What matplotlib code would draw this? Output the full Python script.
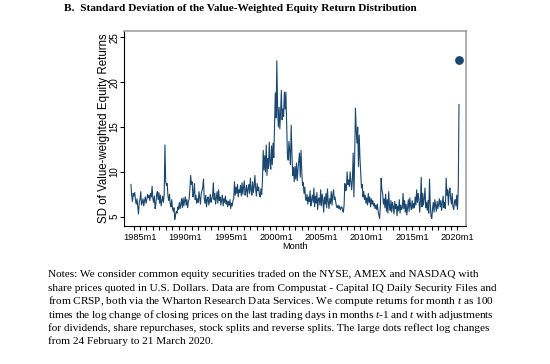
import matplotlib
matplotlib.use("Agg")
import matplotlib.pyplot as plt
import numpy as np

plt.rcParams['font.family'] = ['Liberation Sans', 'DejaVu Sans']
plt.rcParams['mathtext.fontset'] = 'custom'
plt.rcParams['mathtext.rm'] = 'Liberation Serif'
plt.rcParams['mathtext.it'] = 'Liberation Serif:italic'

# monthly SD of value-weighted equity returns, 1984m1 .. 2020m3
sd_by_year = {
    1984: [8.6, 7.4, 6.7, 7.6, 7.3, 7.7, 6.9, 6.4, 7.0, 6.1, 5.3, 6.6],
    1985: [6.9, 7.8, 6.3, 6.6, 7.0, 6.2, 6.8, 7.2, 6.5, 6.9, 7.5, 7.1],
    1986: [7.4, 6.8, 7.6, 7.2, 8.4, 7.0, 6.6, 7.3, 5.9, 6.4, 7.5, 7.8],
    1987: [6.9, 7.7, 6.5, 7.4, 6.2, 6.8, 7.3, 6.6, 7.5, 13.0, 8.9, 8.5],
    1988: [8.7, 7.3, 6.8, 7.5, 6.4, 6.1, 6.9, 5.9, 5.6, 6.0, 4.7, 5.2],
    1989: [5.6, 5.4, 6.1, 5.8, 6.6, 5.9, 6.4, 7.0, 6.0, 7.1, 6.2, 6.8],
    1990: [7.2, 6.3, 6.9, 6.0, 6.7, 7.0, 8.1, 9.6, 8.6, 8.9, 7.2, 7.6],
    1991: [8.7, 6.9, 7.4, 6.5, 7.0, 6.6, 7.8, 7.1, 6.4, 7.6, 7.9, 8.3],
    1992: [9.2, 7.0, 6.5, 7.4, 6.1, 6.9, 7.2, 6.3, 6.8, 7.5, 6.6, 7.0],
    1993: [7.3, 8.8, 6.9, 7.6, 6.4, 7.1, 7.8, 6.5, 8.0, 6.8, 7.2, 6.3],
    1994: [6.9, 7.4, 6.2, 7.0, 6.6, 7.3, 6.4, 6.8, 6.1, 6.7, 6.3, 6.9],
    1995: [5.9, 6.5, 6.2, 6.8, 7.0, 8.9, 7.4, 8.3, 7.6, 8.6, 7.2, 8.0],
    1996: [7.7, 8.5, 7.3, 8.8, 7.5, 8.2, 9.0, 7.4, 7.9, 8.5, 7.2, 8.1],
    1997: [8.6, 7.6, 9.3, 8.0, 7.4, 8.9, 7.7, 8.4, 9.6, 8.1, 7.3, 8.7],
    1998: [7.9, 8.3, 7.4, 7.2, 8.1, 7.5, 9.0, 12.4, 10.2, 11.8, 10.0, 13.0],
    1999: [9.6, 11.5, 10.4, 13.3, 11.0, 10.3, 12.9, 10.8, 13.2, 11.6, 15.0, 18.8],
    2000: [16.0, 22.4, 17.5, 15.0, 17.2, 14.8, 16.6, 19.1, 15.8, 17.0, 16.2, 18.9],
    2001: [17.0, 18.9, 15.6, 12.0, 11.3, 13.4, 12.4, 10.8, 15.2, 12.1, 9.6, 10.5],
    2002: [8.9, 10.6, 9.2, 11.0, 9.0, 10.3, 11.2, 12.1, 9.4, 12.4, 10.1, 8.5],
    2003: [8.8, 7.6, 8.3, 7.0, 6.8, 7.5, 6.4, 7.2, 6.7, 7.9, 6.2, 6.9],
    2004: [7.4, 6.6, 8.2, 6.1, 7.3, 6.5, 7.7, 5.8, 6.9, 7.1, 6.3, 8.0],
    2005: [6.2, 7.5, 6.8, 5.5, 7.2, 6.4, 7.6, 6.0, 8.1, 6.7, 5.9, 7.0],
    2006: [6.5, 7.8, 6.3, 7.4, 8.0, 6.9, 7.2, 6.6, 6.1, 6.0, 6.3, 5.9],
    2007: [6.2, 5.8, 6.0, 6.1, 5.7, 5.5, 6.3, 8.7, 7.9, 8.0, 10.0, 8.6],
    2008: [9.1, 8.4, 10.0, 8.9, 8.0, 9.2, 12.1, 7.2, 11.6, 17.1, 14.8, 13.2],
    2009: [15.0, 10.6, 14.1, 11.5, 9.8, 8.2, 8.6, 7.2, 7.8, 6.9, 7.4, 6.5],
    2010: [7.1, 6.3, 7.6, 6.6, 7.2, 6.1, 7.0, 6.4, 6.8, 6.2, 6.5, 5.9],
    2011: [6.3, 5.8, 6.4, 5.6, 5.2, 4.8, 6.2, 9.3, 8.0, 7.6, 6.4, 7.0],
    2012: [6.0, 7.5, 5.6, 6.9, 5.4, 7.8, 6.2, 5.7, 6.8, 5.5, 6.6, 6.1],
    2013: [5.3, 6.7, 5.9, 6.4, 5.1, 6.2, 5.7, 6.9, 5.4, 6.3, 5.8, 6.0],
    2014: [7.6, 5.9, 6.8, 5.5, 6.4, 5.2, 6.1, 6.9, 5.6, 7.1, 6.2, 5.8],
    2015: [6.8, 5.9, 6.5, 6.0, 7.2, 6.3, 8.0, 6.6, 7.6, 6.9, 5.5, 6.8],
    2016: [9.4, 6.1, 7.6, 6.3, 7.0, 8.2, 6.0, 6.6, 5.7, 6.8, 5.4, 9.2],
    2017: [6.4, 5.0, 4.8, 5.9, 6.6, 5.5, 6.9, 6.2, 5.6, 6.7, 5.9, 6.4],
    2018: [7.0, 6.1, 6.8, 5.7, 6.5, 7.3, 6.0, 6.6, 5.9, 9.3, 7.4, 8.0],
    2019: [6.3, 7.8, 8.2, 7.0, 6.4, 7.6, 6.1, 5.8, 6.6, 6.9, 6.2, 7.4],
    2020: [5.8, 8.0, 17.5],
}

# large dot: 24 Feb - 21 Mar 2020
dot_month = (2020, 3)
dot_value = 22.5

tick_years = [1985, 1990, 1995, 2000, 2005, 2010, 2015, 2020]
tick_labels = [f"{y}m1" for y in tick_years]

months = []
values = []
for yr, vals in sd_by_year.items():
    for i, v in enumerate(vals):
        months.append(yr + i / 12)
        values.append(v)

navy = '#1a476f'

fig = plt.figure(figsize=(5.5, 3.64), dpi=100)
ax = fig.add_axes([0.2255, 0.38, 0.6218, 0.5357])

ax.plot(months, values, color=navy, lw=0.8)
ax.plot([dot_month[0] + (dot_month[1] - 1) / 12], [dot_value], 'o',
        color=navy, markersize=5.3)

ax.set_xlim(1983.24, 2020.94)
ax.set_ylim(4.0, 25.74)

ax.set_xticks(tick_years)
ax.set_xticklabels(tick_labels, fontsize=6.7)
minor = [1985 + k * 5 / 7 for k in range(-1, 50)]
minor = [m for m in minor if 1983.5 < m < 2020.6]
ax.set_xticks(minor, minor=True)
ax.set_yticks([5, 10, 15, 20, 25])
ax.set_yticklabels(['5', '10', '15', '20', '25'], fontsize=7, rotation=90, va='center')

ax.tick_params(axis='both', which='both', length=3, width=0.8, color='black')
ax.tick_params(axis='x', which='both', pad=2)
ax.tick_params(axis='y', pad=0.5)

for s in ['left', 'bottom']:
    ax.spines[s].set_color('black')
    ax.spines[s].set_linewidth(0.8)
for s in ['top', 'right']:
    ax.spines[s].set_color('#a0a0a0')
    ax.spines[s].set_linewidth(1.2)

ax.set_xlabel('Month', fontsize=6.7, labelpad=0)
ax.set_ylabel('SD of Value-weighted Equity Returns', fontsize=8.3)
ax.yaxis.set_label_coords(-0.04, 0.5)

fig.text(0.117, 1 - 8.7 / 364,
         'B.  Standard Deviation of the Value-Weighted Equity Return Distribution',
         family='Liberation Serif', weight='bold', fontsize=8.1, va='center')

notes = [
    "Notes: We consider common equity securities traded on the NYSE, AMEX and NASDAQ with",
    "share prices quoted in U.S. Dollars. Data are from Compustat - Capital IQ Daily Security Files and",
    "from CRSP, both via the Wharton Research Data Services. We compute returns for month $t$ as 100",
    "times the log change of closing prices on the last trading days in months $t$-$\\mathit{1}$ and $t$ with adjustments",
    "for dividends, share repurchases, stock splits and reverse splits. The large dots reflect log changes",
    "from 24 February to 21 March 2020.",
]
for i, line in enumerate(notes):
    fig.text(0.0867, 1 - (274.3 + i * 13.45) / 364, line,
             family='Liberation Serif', fontsize=8.1, va='center')

fig.savefig('out.png', dpi=100)
